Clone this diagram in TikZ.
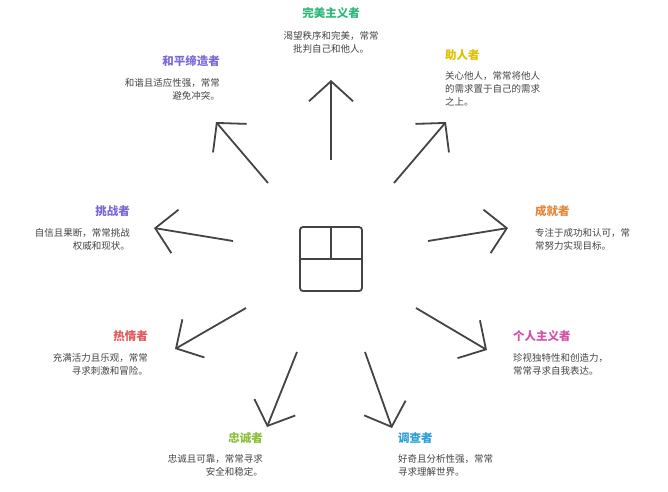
\documentclass[tikz,border=0pt]{standalone}
\usepackage{fontspec}
\setmainfont{Noto Sans CJK SC}
\usetikzlibrary{arrows.meta}
\definecolor{cg}{HTML}{2DB87A}
\definecolor{cp}{HTML}{7B68D8}
\definecolor{cy}{HTML}{E0C000}
\definecolor{co}{HTML}{E6873A}
\definecolor{cr}{HTML}{E05A5A}
\definecolor{cpk}{HTML}{D64FA8}
\definecolor{cl}{HTML}{8CBF3A}
\definecolor{cb}{HTML}{2A9ED6}
\definecolor{ln}{HTML}{444444}
\tikzset{
 arr/.style={draw=ln,line width=1.8pt,-{Straight Barb[length=20pt,width=44pt,line width=1.8pt]}},
 ttl/.style={font=\fontsize{11.5}{13}\selectfont\bfseries,inner sep=0pt},
 dsc/.style={font=\fontsize{9.5}{13}\selectfont,text=ln,inner sep=0pt},
}
\begin{document}
\begin{tikzpicture}[x=1pt,y=-1pt]
\useasboundingbox (0,0) rectangle (668,491);
% icon
\node[draw=ln,line width=1.8pt,rounded corners=3pt,minimum width=62pt,minimum height=64pt,inner sep=0pt] (ic) at (331,259) {};
\coordinate (ia) at (331,228);
\coordinate (ib) at (331,259);
\coordinate (ic1) at (300,259);
\coordinate (ic2) at (362,259);
\draw[draw=ln,line width=1.8pt] (ia) -- (ib) (ic1) -- (ic2);
% arrows
\foreach \n/\sx/\sy/\tx/\ty in {a/331/160/331/80, b/268/183/216/122, c/394/183/446/122, d/233/241/154/228, e/428/241/508/228, f/246/308/175/349, g/416/308/487/350, h/297/352/267/427, i/365/352/392/428}{
  \coordinate (s\n) at (\sx,\sy); \coordinate (t\n) at (\tx,\ty);
  \draw[arr] (s\n) -- (t\n);
}
% texts
\node[ttl,text=cg] (t1) at (331,13) {完美主义者};
\node[dsc,align=center] (d1) at (331,42) {渴望秩序和完美，常常\\批判自己和他人。};
\node[ttl,text=cp,anchor=east] (t2) at (220,61) {和平缔造者};
\node[dsc,align=right,anchor=north east] (d2) at (220,78) {和谐且适应性强，常常\\避免冲突。};
\node[ttl,text=cy,anchor=west] (t3) at (445,55) {助人者};
\node[dsc,align=left,anchor=north west] (d3) at (445,71) {关心他人，常常将他人\\的需求置于自己的需求\\之上。};
\node[ttl,text=cp,anchor=east] (t4) at (130,211) {挑战者};
\node[dsc,align=right,anchor=north east] (d4) at (130,228) {自信且果断，常常挑战\\权威和现状。};
\node[ttl,text=co,anchor=west] (t5) at (535,211) {成就者};
\node[dsc,align=left,anchor=north west] (d5) at (535,228) {专注于成功和认可，常\\常努力实现目标。};
\node[ttl,text=cr,anchor=east] (t6) at (148,336) {热情者};
\node[dsc,align=right,anchor=north east] (d6) at (148,353) {充满活力且乐观，常常\\寻求刺激和冒险。};
\node[ttl,text=cpk,anchor=west] (t7) at (513,336) {个人主义者};
\node[dsc,align=left,anchor=north west] (d7) at (513,353) {珍视独特性和创造力，\\常常寻求自我表达。};
\node[ttl,text=cl,anchor=east] (t8) at (263,438) {忠诚者};
\node[dsc,align=right,anchor=north east] (d8) at (263,454) {忠诚且可靠，常常寻求\\安全和稳定。};
\node[ttl,text=cb,anchor=west] (t9) at (398,438) {调查者};
\node[dsc,align=left,anchor=north west] (d9) at (398,454) {好奇且分析性强，常常\\寻求理解世界。};
\end{tikzpicture}
\end{document}
